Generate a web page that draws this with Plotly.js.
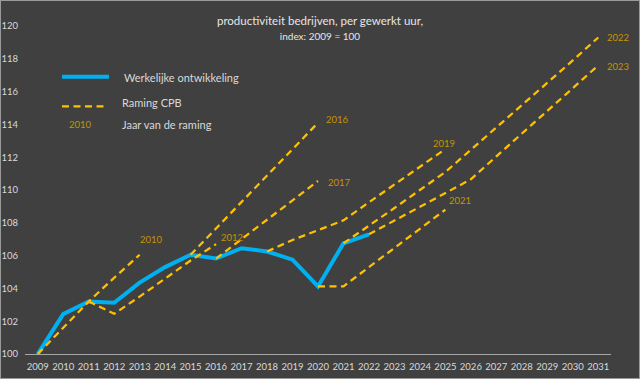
<!DOCTYPE html>
<html>
<head>
<meta charset="utf-8">
<script src="https://cdn.plot.ly/plotly-3.0.1.min.js"></script>
<style>
  html, body { margin: 0; padding: 0; background: #404040; }
  #chart { width: 638px; height: 377px; border: 1px solid #9a9a9a; }
</style>
</head>
<body>
<div id="chart"></div>
<script>
// ---- data ----
const actualYears = [2009, 2010, 2011, 2012, 2013, 2014, 2015, 2016, 2017, 2018, 2019, 2020, 2021, 2022];
const actualValues = [100, 102.43, 103.2, 103.12, 104.35, 105.3, 106.05, 105.82, 106.45, 106.25, 105.75, 104.12, 106.75, 107.3];

const f2010Years = [2009, 2010, 2011, 2012, 2013];
const f2010Values = [100, 101.6, 103.2, 104.65, 106.05];

const f2012Years = [2011, 2012, 2013, 2014, 2015, 2016];
const f2012Values = [103.2, 102.45, 103.5, 104.6, 105.7, 106.7];

const f2016Years = [2015, 2016, 2017, 2018, 2019, 2020];
const f2016Values = [106.05, 107.65, 109.25, 110.9, 112.5, 114.1];

const f2017Years = [2016, 2017, 2018, 2019, 2020];
const f2017Values = [105.82, 107.0, 108.2, 109.4, 110.55];

const f2019Years = [2018, 2019, 2020, 2021, 2022, 2023, 2024, 2025];
const f2019Values = [106.25, 106.95, 107.55, 108.15, 109.25, 110.35, 111.4, 112.5];

const f2021Years = [2020, 2021, 2022, 2023, 2024, 2025];
const f2021Values = [104.12, 104.12, 105.3, 106.45, 107.6, 108.8];

const f2022Years = [2021, 2022, 2023, 2024, 2025, 2026, 2027, 2028, 2029, 2030, 2031];
const f2022Values = [106.75, 107.8, 108.9, 110.0, 111.1, 112.45, 113.8, 115.15, 116.55, 117.9, 119.3];

const f2023Years = [2022, 2023, 2024, 2025, 2026, 2027, 2028, 2029, 2030, 2031];
const f2023Values = [107.3, 108.15, 109.0, 109.85, 110.65, 112.05, 113.45, 114.85, 116.2, 117.6];

const forecastLabels = ['2010', '2012', '2016', '2017', '2019', '2021', '2022', '2023'];
const xTickYears = [2009, 2010, 2011, 2012, 2013, 2014, 2015, 2016, 2017, 2018, 2019, 2020,
                    2021, 2022, 2023, 2024, 2025, 2026, 2027, 2028, 2029, 2030, 2031];

// ---- styling ----
const FONT = 'Lato, "Open Sans", sans-serif';
const BLUE = '#00B0F0';
const GOLD = '#FFC000';
const GOLD_TEXT = '#C49400';
const TXT = '#D9D9D9';

const forecasts = [
  [f2010Years, f2010Values], [f2012Years, f2012Values], [f2016Years, f2016Values],
  [f2017Years, f2017Values], [f2019Years, f2019Values], [f2021Years, f2021Values],
  [f2022Years, f2022Values], [f2023Years, f2023Values]
];
// label offsets (pixels) relative to the end point of each forecast line
const labelShift = [[-2, 15], [3, 7], [6, 3], [8, -2], [-14, 6], [2, 9], [7, 0], [7, -1]];

const traces = [{
  x: actualYears, y: actualValues, type: 'scatter', mode: 'lines',
  name: 'Werkelijke ontwikkeling', line: { color: BLUE, width: 4 },
  showlegend: false, hoverinfo: 'x+y'
}];
forecasts.forEach(function (f, i) {
  traces.push({
    x: f[0], y: f[1], type: 'scatter', mode: 'lines',
    name: 'Raming CPB ' + forecastLabels[i],
    line: { color: GOLD, width: 2.25, dash: '7px,4.5px' },
    showlegend: false
  });
});

const annotations = forecasts.map(function (f, i) {
  const n = f[0].length - 1;
  return {
    x: f[0][n], y: f[1][n], xref: 'x', yref: 'y', text: forecastLabels[i],
    showarrow: false, xanchor: 'left', yanchor: 'middle',
    xshift: labelShift[i][0], yshift: labelShift[i][1],
    font: { family: FONT, size: 9.5, color: GOLD_TEXT }
  };
});

// custom legend (paper coordinates of the plot area)
const legendFont = { family: FONT, size: 11, color: TXT };
annotations.push(
  { x: 0.166, y: 0.842, xref: 'paper', yref: 'paper', text: 'Werkelijke ontwikkeling', showarrow: false,
    xanchor: 'left', yanchor: 'middle', font: legendFont },
  { x: 0.1626, y: 0.766, xref: 'paper', yref: 'paper', text: 'Raming CPB', showarrow: false,
    xanchor: 'left', yanchor: 'middle', font: legendFont },
  { x: 0.1626, y: 0.701, xref: 'paper', yref: 'paper', text: 'Jaar van de raming', showarrow: false,
    xanchor: 'left', yanchor: 'middle', font: legendFont },
  { x: 0.0947, y: 0.700, xref: 'paper', yref: 'paper', text: forecastLabels[0], showarrow: false,
    xanchor: 'center', yanchor: 'middle', font: { family: FONT, size: 9.5, color: GOLD_TEXT } }
);

const shapes = [
  { type: 'line', xref: 'paper', yref: 'paper', x0: 0.0631, x1: 0.1433, y0: 0.8454, y1: 0.8454,
    line: { color: BLUE, width: 4 } },
  { type: 'line', xref: 'paper', yref: 'paper', x0: 0.0631, x1: 0.1382, y0: 0.7552, y1: 0.7552,
    line: { color: GOLD, width: 2.25, dash: '7px,4.5px' } }
];

const layout = {
  width: 638, height: 377,
  margin: { l: 24, r: 28, t: 25, b: 24 },
  paper_bgcolor: '#404040', plot_bgcolor: '#404040',
  font: { family: FONT, color: TXT },
  title: {
    text: 'productiviteit bedrijven, per gewerkt uur,<br><span style="font-size:10px">index: 2009 = 100</span>',
    x: 0.5, xanchor: 'center', y: 0.936, yanchor: 'top', yref: 'container',
    font: { family: FONT, size: 11.5, color: '#E6E6E6' }
  },
  xaxis: {
    range: [2008.5, 2031.5], tickmode: 'array', tickvals: xTickYears,
    ticktext: xTickYears.map(String),
    showgrid: false, zeroline: false, showline: true, linecolor: '#A6A6A6', linewidth: 1,
    ticks: '', tickfont: { family: FONT, size: 9.5, color: TXT }, ticklabelstandoff: 4,
    fixedrange: true
  },
  yaxis: {
    range: [100, 120], dtick: 2, tick0: 100,
    showgrid: false, zeroline: false, showline: false, ticks: '',
    tickfont: { family: FONT, size: 9.5, color: TXT }, ticklabelstandoff: 6,
    fixedrange: true
  },
  showlegend: false,
  annotations: annotations,
  shapes: shapes
};

Plotly.newPlot('chart', traces, layout, { displayModeBar: false, staticPlot: true });
</script>
</body>
</html>
